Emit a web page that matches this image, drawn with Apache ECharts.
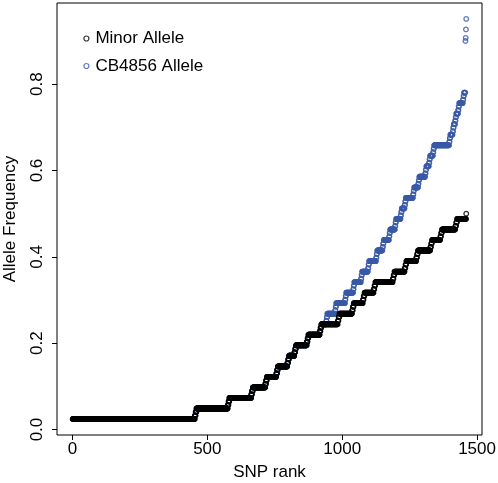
<!DOCTYPE html>
<html>
<head>
<meta charset="utf-8">
<script src="https://cdn.jsdelivr.net/npm/echarts@6/dist/echarts.min.js"></script>
<style>
html,body{margin:0;padding:0;background:#fff;}
#chart{width:498px;height:483px;}
</style>
</head>
<body>
<div id="chart"></div>
<script>
// Allele counts are read as numerators over the number of strains.
const STRAINS = 41;

// Minor allele frequency (black), ordered by SNP rank: level (x/41) and run length
const minorLevels = [1,1.33,1.67,2,2.33,2.67,3,3.33,3.67,4,4.33,4.67,5,5.33,5.67,6,6.33,6.67,7,7.33,7.67,8,8.33,8.67,9,9.33,9.67,10,10.33,10.67,11,11.33,11.67,12,12.33,12.67,13,13.33,13.67,14,14.33,14.67,15,15.33,15.67,16,16.33,16.67,17,17.33,17.67,18,18.33,18.67,19,19.33,19.67,20,20.5];
const minorCounts = [453,3,3,116,3,3,81,3,3,46,3,3,35,3,3,35,3,3,20,3,3,40,3,3,42,3,3,61,3,3,47,3,3,34,3,3,34,3,3,65,3,3,38,3,3,37,3,3,46,3,3,31,3,3,50,3,3,34,1];

// CB4856 allele frequency (blue)
const cbLevels = [1,1.33,1.67,2,2.33,2.67,3,3.33,3.67,4,4.33,4.67,5,5.33,5.67,6,6.33,6.67,7,7.33,7.67,8,8.33,8.67,9,9.33,9.67,10,10.33,10.67,11,11.33,11.67,12,12.33,12.67,13,13.33,13.67,14,14.33,14.67,15,15.33,15.67,16,16.33,16.67,17,17.33,17.67,18,18.33,18.67,19,19.33,19.67,20,20.33,20.67,21,21.33,21.67,22,22.33,22.67,23,23.33,23.67,24,24.33,24.67,25,25.33,25.67,26,26.33,26.67,27,27.33,27.67,28,28.33,28.67,29,29.33,29.67,30,30.33,30.67,31,31.33,31.67,32,36.9,37.2,38,39];
const cbCounts = [453,3,3,116,3,3,81,3,3,46,3,3,35,3,3,35,3,3,20,3,3,40,3,3,42,3,3,18,2,2,29,2,2,33,2,2,26,2,2,25,2,2,22,2,2,26,2,2,20,2,2,20,2,2,18,2,2,17,2,2,11,2,2,27,2,2,15,2,2,22,2,2,10,2,2,11,2,2,56,2,2,9,2,2,5,2,2,7,2,2,14,2,2,5,1,1,1,1];

const xTicks = [0, 500, 1000, 1500];
const yTicks = [0, 0.2, 0.4, 0.6, 0.8];

function expand(levels, counts) {
  const pts = [];
  let rank = 1;
  for (let i = 0; i < levels.length; i++) {
    for (let j = 0; j < counts[i]; j++) {
      pts.push([rank, levels[i] / STRAINS]);
      rank++;
    }
  }
  return pts;
}

const FONT = "'Liberation Sans', Arial, Helvetica, sans-serif";
const chart = echarts.init(document.getElementById('chart'), null, {renderer: 'canvas'});
chart.setOption({
  animation: false,
  backgroundColor: '#fff',
  textStyle: {fontFamily: FONT},
  grid: {left: 57, right: 16, top: 3, bottom: 48, containLabel: false, outerBoundsMode: 'none',
    show: true, borderColor: '#000', borderWidth: 1, backgroundColor: 'transparent'},
  legend: {
    orient: 'vertical', left: 83.3, top: 30, padding: 0, itemGap: 10.5,
    itemWidth: 8, itemHeight: 5,
    data: ['Minor Allele', 'CB4856 Allele'],
    itemStyle: {color: 'transparent', borderColor: 'inherit', borderWidth: 1.2},
    textStyle: {fontSize: 17, color: '#000', fontFamily: FONT},
    selectedMode: false
  },
  xAxis: {
    type: 'value', min: -57.4, max: 1518.4,
    name: 'SNP rank', nameLocation: 'middle', nameGap: 29,
    nameTextStyle: {fontSize: 17, color: '#000', fontFamily: FONT},
    axisLine: {show: false, onZero: false},
    axisTick: {show: true, length: 5, customValues: xTicks, lineStyle: {color: '#000', width: 1}},
    axisLabel: {customValues: xTicks, margin: 6, fontSize: 17, color: '#000', fontFamily: FONT,
      formatter: v => String(Math.round(v))},
    splitLine: {show: false}
  },
  yAxis: {
    type: 'value', min: -0.0127, max: 0.988,
    name: 'Allele Frequency', nameLocation: 'middle', nameGap: 38,
    nameTextStyle: {fontSize: 17, color: '#000', fontFamily: FONT},
    axisLine: {show: false, onZero: false},
    axisTick: {show: true, length: 5, customValues: yTicks, lineStyle: {color: '#000', width: 1}},
    axisLabel: {customValues: yTicks, rotate: 90, margin: 11, fontSize: 17, color: '#000', fontFamily: FONT,
      formatter: v => v.toFixed(1)},
    splitLine: {show: false}
  },
  series: [
    {
      name: 'CB4856 Allele', type: 'scatter', symbol: 'circle', symbolSize: 4.6,
      data: expand(cbLevels, cbCounts),
      itemStyle: {color: 'rgba(0,0,0,0)', borderColor: '#3a5aa8', borderWidth: 1.3},
      emphasis: {disabled: true}, silent: true, large: false
    },
    {
      name: 'Minor Allele', type: 'scatter', symbol: 'circle', symbolSize: 4.6,
      data: expand(minorLevels, minorCounts),
      itemStyle: {color: 'rgba(0,0,0,0)', borderColor: '#000', borderWidth: 1.3},
      emphasis: {disabled: true}, silent: true, large: false
    }
  ]
});
</script>
</body>
</html>
